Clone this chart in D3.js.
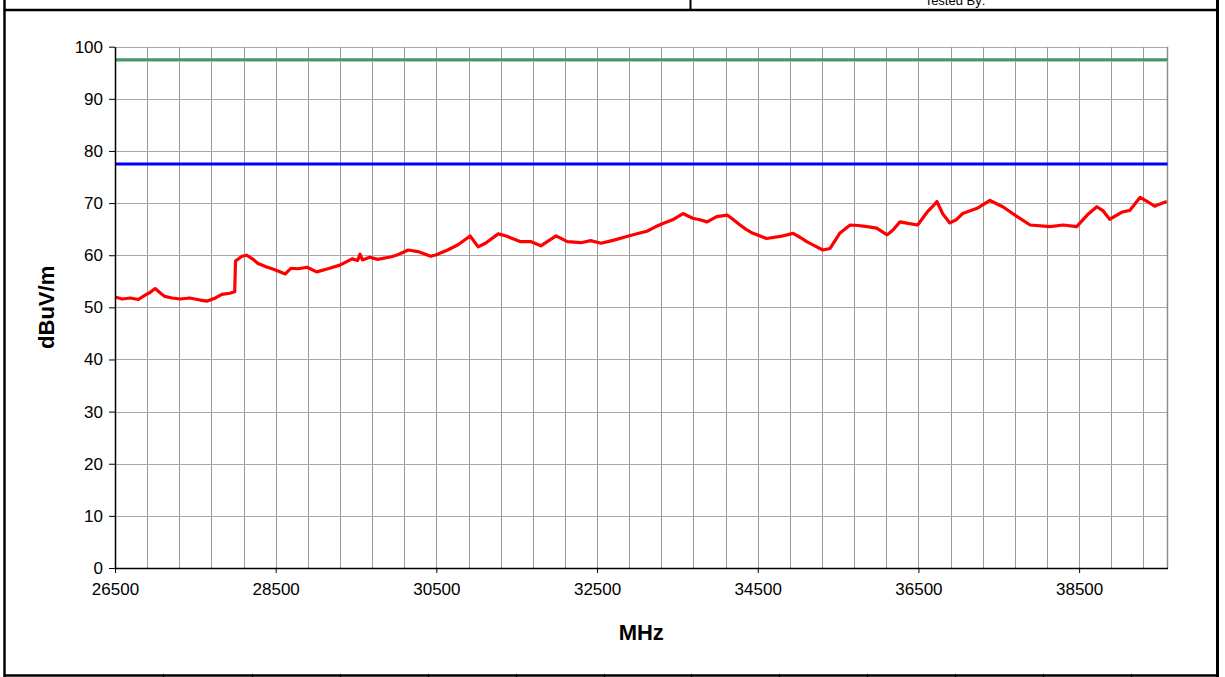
<!DOCTYPE html>
<html>
<head>
<meta charset="utf-8">
<script src="https://cdn.jsdelivr.net/npm/d3@7/dist/d3.min.js"></script>
<style>
  html, body { margin: 0; padding: 0; background: #fff; }
  svg { display: block; font-family: "Liberation Sans", Arial, sans-serif; }
</style>
</head>
<body>
<svg id="chart" width="1225" height="677"></svg>
<script>
// Measured field strength trace (frequency in MHz, level in dBuV/m)
const freqMHz = [
  26500, 26590, 26690, 26790, 26870, 26940, 27000, 27060, 27120, 27210,
  27310, 27430, 27560, 27650, 27750, 27830, 27930, 27990, 28000, 28080,
  28140, 28220, 28280, 28380, 28490, 28620, 28690, 28780, 28890, 29010,
  29150, 29300, 29450, 29520, 29550, 29580, 29670, 29770, 29940, 30020,
  30150, 30270, 30430, 30500, 30640, 30770, 30920, 31020, 31110, 31270,
  31370, 31430, 31550, 31680, 31800, 31990, 32130, 32300, 32420, 32550,
  32710, 32870, 33020, 33120, 33220, 33320, 33440, 33570, 33690, 33780,
  33870, 33990, 34120, 34190, 34280, 34350, 34440, 34610, 34780, 34940,
  35030, 35110, 35210, 35310, 35400, 35520, 35650, 35750, 35860, 35980,
  36110, 36180, 36270, 36370, 36490, 36610, 36680, 36730, 36800, 36890,
  36970, 37050, 37230, 37390, 37550, 37730, 37890, 38140, 38300, 38470,
  38600, 38720, 38800, 38880, 39040, 39130, 39260, 39350, 39440, 39500,
  39590
];
const levelDbuv = [
  52.0, 51.6, 51.8, 51.5, 52.3, 52.9, 53.6, 52.8, 52.1, 51.8,
  51.6, 51.8, 51.4, 51.2, 51.8, 52.5, 52.7, 53.0, 58.9, 59.8,
  60.0, 59.2, 58.4, 57.8, 57.2, 56.4, 57.5, 57.4, 57.7, 56.8,
  57.4, 58.1, 59.3, 59.0, 60.2, 59.1, 59.6, 59.2, 59.7, 60.1,
  61.0, 60.7, 59.8, 60.1, 61.0, 62.0, 63.7, 61.6, 62.3, 64.1,
  63.7, 63.3, 62.6, 62.6, 61.8, 63.7, 62.6, 62.4, 62.8, 62.3,
  62.9, 63.6, 64.2, 64.6, 65.4, 66.1, 66.8, 68.0, 67.1, 66.8,
  66.4, 67.4, 67.7, 66.9, 65.8, 65.0, 64.2, 63.2, 63.6, 64.2,
  63.4, 62.6, 61.8, 61.0, 61.3, 64.2, 65.8, 65.7, 65.5, 65.2,
  63.9, 64.8, 66.4, 66.1, 65.8, 68.3, 69.4, 70.3, 68.0, 66.2,
  66.8, 68.0, 69.0, 70.5, 69.3, 67.4, 65.8, 65.5, 65.8, 65.5,
  67.7, 69.3, 68.5, 66.9, 68.3, 68.6, 71.1, 70.3, 69.4, 69.8,
  70.3
];

// Horizontal limit lines
const limitUpper = 97.5;
const limitUpperShadow = 97.2;
const limitLower = 77.5;

// Axis ticks
const yTicks = [0, 10, 20, 30, 40, 50, 60, 70, 80, 90, 100];
const xLabelTicks = [26500, 28500, 30500, 32500, 34500, 36500, 38500];
const xGridStep = 400;
const xDomain = [26500, 39600];

// Table cell dividers along the page frame's lower edge
const frameDividers = [163, 252, 340, 428, 516, 604, 691, 779, 867, 955, 1043, 1131];

const svg = d3.select("#chart");
const plot = { left: 115, right: 1167.5, top: 46.7, bottom: 568 };

const x = d3.scaleLinear().domain(xDomain).range([plot.left, plot.right]);
const y = d3.scaleLinear().domain([0, 100]).range([plot.bottom, plot.top]);

// Page frame
const frame = svg.append("g");
frame.append("line").attr("x1", 4.5).attr("x2", 4.5).attr("y1", 0).attr("y2", 677)
  .attr("stroke", "#000").attr("stroke-width", 2.5);
frame.append("line").attr("x1", 1217.5).attr("x2", 1217.5).attr("y1", 0).attr("y2", 677)
  .attr("stroke", "#000").attr("stroke-width", 3);
frame.append("line").attr("x1", 4).attr("x2", 1218).attr("y1", 10).attr("y2", 10)
  .attr("stroke", "#000").attr("stroke-width", 2.5);
frame.append("line").attr("x1", 690.5).attr("x2", 690.5).attr("y1", 0).attr("y2", 10)
  .attr("stroke", "#000").attr("stroke-width", 2);
frame.append("line").attr("x1", 4).attr("x2", 1218).attr("y1", 675.5).attr("y2", 675.5)
  .attr("stroke", "#000").attr("stroke-width", 2.5);
frame.selectAll("line.div").data(frameDividers).enter().append("line")
  .attr("class", "div")
  .attr("x1", d => d + 0.5).attr("x2", d => d + 0.5)
  .attr("y1", 674).attr("y2", 677)
  .attr("stroke", "#000").attr("stroke-width", 1.5);
frame.append("text").attr("x", 955).attr("y", 5)
  .attr("text-anchor", "middle").attr("font-size", 13).attr("fill", "#000")
  .text("Tested By:");

// Gridlines
const grid = svg.append("g");
grid.selectAll("line.vg").data(d3.range(xDomain[0] + xGridStep, xDomain[1] + 1, xGridStep))
  .enter().append("line").attr("class", "vg")
  .attr("x1", d => Math.round(x(d)) + 0.5).attr("x2", d => Math.round(x(d)) + 0.5)
  .attr("y1", plot.top).attr("y2", plot.bottom)
  .attr("stroke", "#9a9a9a").attr("stroke-width", 1);
grid.selectAll("line.hg").data(yTicks.filter(d => d > 0))
  .enter().append("line").attr("class", "hg")
  .attr("x1", plot.left).attr("x2", plot.right)
  .attr("y1", d => Math.round(y(d)) + 0.5).attr("y2", d => Math.round(y(d)) + 0.5)
  .attr("stroke", "#a8a8a8").attr("stroke-width", 1);
// right border of plot area
grid.append("line")
  .attr("x1", plot.right).attr("x2", plot.right)
  .attr("y1", plot.top).attr("y2", plot.bottom)
  .attr("stroke", "#8c8c8c").attr("stroke-width", 1.5);

// Limit lines
svg.append("line")
  .attr("x1", plot.left).attr("x2", plot.right)
  .attr("y1", y(limitUpperShadow)).attr("y2", y(limitUpperShadow))
  .attr("stroke", "#e8c8a8").attr("stroke-width", 1);
svg.append("line")
  .attr("x1", plot.left).attr("x2", plot.right)
  .attr("y1", y(limitUpper)).attr("y2", y(limitUpper))
  .attr("stroke", "#3d9a6b").attr("stroke-width", 3);
svg.append("line")
  .attr("x1", plot.left).attr("x2", plot.right)
  .attr("y1", y(limitLower)).attr("y2", y(limitLower))
  .attr("stroke", "#0000ff").attr("stroke-width", 3);

// Measured trace
const trace = d3.range(freqMHz.length).map(i => [freqMHz[i], levelDbuv[i]]);
svg.append("path")
  .datum(trace)
  .attr("fill", "none")
  .attr("stroke", "#ff0000")
  .attr("stroke-width", 3.2)
  .attr("stroke-linejoin", "round")
  .attr("d", d3.line().x(d => x(d[0])).y(d => y(d[1])));

// Y axis
const yAxis = svg.append("g")
  .attr("transform", `translate(${plot.left},0)`)
  .call(d3.axisLeft(y).tickValues(yTicks).tickSize(6).tickPadding(6).tickSizeOuter(0));
yAxis.select(".domain").attr("stroke", "#000").attr("stroke-width", 1.5);
yAxis.selectAll(".tick line").attr("stroke", "#000").attr("stroke-width", 1);
yAxis.selectAll(".tick text").attr("font-size", 17).attr("fill", "#000")
  .attr("font-family", "Liberation Sans, Arial, sans-serif");

// X axis
const xAxis = svg.append("g")
  .attr("transform", `translate(0,${plot.bottom})`)
  .call(d3.axisBottom(x).tickValues(xLabelTicks).tickSize(5).tickPadding(10).tickSizeOuter(0)
    .tickFormat(d3.format("d")));
xAxis.select(".domain").attr("stroke", "#000").attr("stroke-width", 1.5);
xAxis.selectAll(".tick line").attr("stroke", "#000").attr("stroke-width", 1);
xAxis.selectAll(".tick text").attr("font-size", 17).attr("fill", "#000")
  .attr("font-family", "Liberation Sans, Arial, sans-serif");

// Axis titles
svg.append("text")
  .attr("transform", `translate(54,${(plot.top + plot.bottom) / 2}) rotate(-90)`)
  .attr("text-anchor", "middle")
  .attr("font-size", 22).attr("font-weight", "bold").attr("fill", "#000")
  .text("dBuV/m");
svg.append("text")
  .attr("x", (plot.left + plot.right) / 2).attr("y", 640)
  .attr("text-anchor", "middle")
  .attr("font-size", 22).attr("font-weight", "bold").attr("fill", "#000")
  .text("MHz");
</script>
</body>
</html>
